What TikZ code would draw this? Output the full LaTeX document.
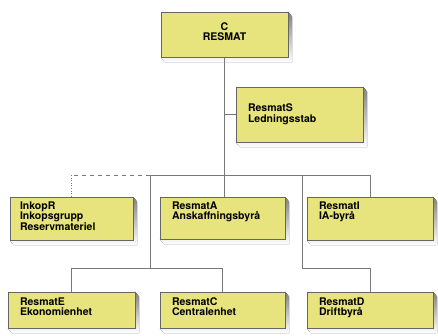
\documentclass[tikz,border=0pt]{standalone}
\usepackage{fontspec}
\setmainfont{TeX Gyre Heros}
\usetikzlibrary{backgrounds,calc}
\definecolor{boxyellow}{RGB}{231,228,125}
\definecolor{linegray}{RGB}{120,120,120}
\definecolor{shade}{RGB}{20,20,20}
\begin{document}
\begin{tikzpicture}[x=1pt,y=-1pt,
    box/.style={draw=black!60, line width=0.4pt, fill=boxyellow, inner sep=0pt},
    txt/.style={inner sep=0pt, align=left, font=\fontsize{10.5}{10.5}\selectfont\bfseries},
    conn/.style={linegray, line width=0.6pt}]
\useasboundingbox (0,0) rectangle (438,336);

% boxes
\node[box, minimum width=127pt, minimum height=45pt] (c) at (224.5,34.5) {};
\node[box, minimum width=127pt, minimum height=55pt] (resmats) at (299.5,114.5) {};

\node[box, minimum width=123pt, minimum height=43pt] (inkopr) at (71.5,218.5) {};
\node[box, minimum width=125pt, minimum height=42pt] (resmata) at (222.5,218) {};
\node[box, minimum width=126pt, minimum height=43pt] (resmati) at (370,218.5) {};

\node[box, minimum width=127pt, minimum height=36pt] (resmate) at (71.5,310) {};
\node[box, minimum width=125pt, minimum height=36pt] (resmatc) at (222.5,310) {};
\node[box, minimum width=126pt, minimum height=36pt] (resmatd) at (370,310) {};

% texts
\node[txt, align=center, anchor=north] (c-t) at ([yshift=-10.5pt]c.north) {C\\RESMAT};
\node[txt, anchor=north west] (resmats-t) at ([xshift=12pt,yshift=-17pt]resmats.north west) {ResmatS\\Ledningsstab};
\node[txt, anchor=north west] (inkopr-t) at ([xshift=10pt,yshift=-4.5pt]inkopr.north west) {InkopR\\Inkopsgrupp\\Reservmateriel};
\node[txt, anchor=north west] (resmata-t) at ([xshift=12pt,yshift=-4.5pt]resmata.north west) {ResmatA\\Anskaffningsbyrå};
\node[txt, anchor=north west] (resmati-t) at ([xshift=12pt,yshift=-4.5pt]resmati.north west) {ResmatI\\IA-byrå};
\node[txt, anchor=north west] (resmate-t) at ([xshift=12pt,yshift=-5.5pt]resmate.north west) {ResmatE\\Ekonomienhet};
\node[txt, anchor=north west] (resmatc-t) at ([xshift=12pt,yshift=-5.5pt]resmatc.north west) {ResmatC\\Centralenhet};
\node[txt, anchor=north west] (resmatd-t) at ([xshift=12pt,yshift=-5.5pt]resmatd.north west) {ResmatD\\Driftbyrå};

% junctions
\coordinate (jl) at (150,175);
\coordinate (jr) at (302,175);
\coordinate (ll) at (150,268);
\coordinate (lr) at (302,268);

\begin{scope}[on background layer]
% shadows
\foreach \bx in {c,resmats,inkopr,resmata,resmati,resmate,resmatc,resmatd}{
    \fill[shade] ($(\bx.south west)+(0,0)$) -- ($(\bx.south west)+(4,5)$)
        -- ($(\bx.south east)+(4,5)$) -- ($(\bx.north east)+(4,5)$)
        -- ($(\bx.north east)+(0,0)$) -- cycle;
}
% connectors
\draw[conn] (c.south) -- (c.south |- resmata.north);
\draw[conn] (c.south |- resmats.west) -- (resmats.west);
\draw[conn] (jl) -- (jl -| resmati.north) -- (resmati.north);
\draw[conn, dash pattern=on 4pt off 4pt] (jl) -- (jl -| inkopr.north);
\draw[conn, dotted] (jl -| inkopr.north) -- (inkopr.north);
\draw[conn] (jl) -- (ll);
\draw[conn] (resmate.north) -- (resmate.north |- ll) -- (ll -| resmatc.north) -- (resmatc.north);
\draw[conn] (jr) -- (lr) -- (lr -| resmatd.north) -- (resmatd.north);
\end{scope}

\end{tikzpicture}
\end{document}
